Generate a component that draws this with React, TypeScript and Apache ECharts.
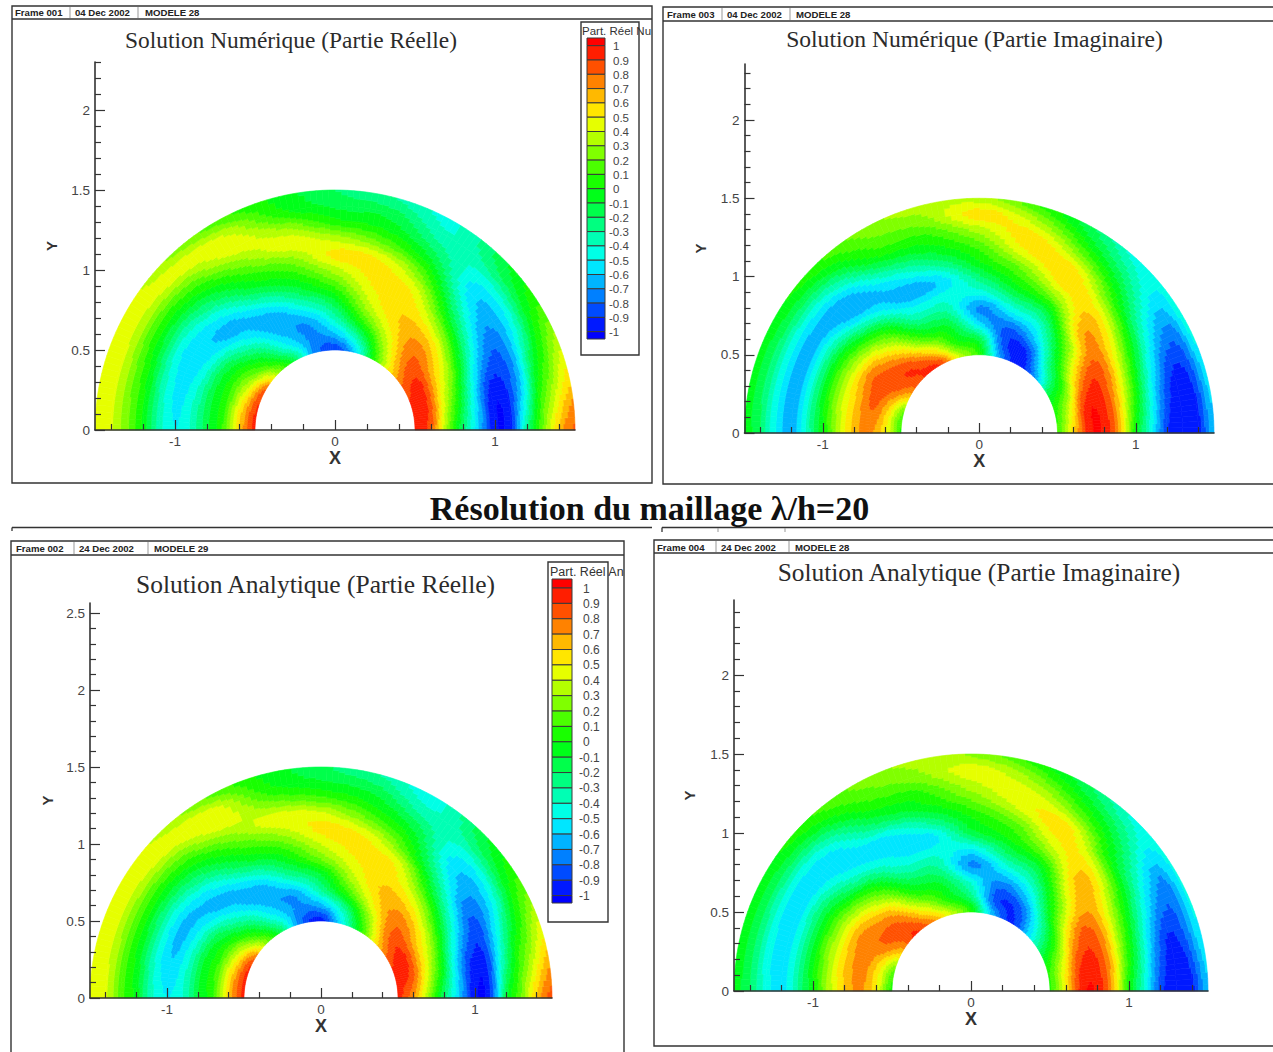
import React, { useEffect, useRef } from "react";
import * as echarts from "echarts";

const anglesDeg = [0, 15, 30, 45, 60, 75, 90, 105, 120, 135, 150, 165, 180];
const radii = [0.5, 0.6, 0.7, 0.8, 0.9, 1.0, 1.1, 1.2, 1.3, 1.4, 1.5];

const numericReal = [
  [0.92, 0.85, 0.3, -0.2, -0.6, -0.98, -0.92, -0.3, 0.2, 0.62, 0.82],
  [0.92, 0.9, 0.45, 0, -0.5, -0.92, -0.9, -0.6, -0.05, 0.25, 0.52],
  [0.85, 0.92, 0.65, 0.35, -0.1, -0.5, -0.75, -0.68, -0.4, -0.05, 0.15],
  [0.6, 0.75, 0.78, 0.62, 0.33, -0.05, -0.35, -0.55, -0.48, -0.25, -0.12],
  [0.1, 0.3, 0.5, 0.6, 0.56, 0.46, 0.2, -0.05, -0.25, -0.38, -0.42],
  [-0.55, -0.25, 0.1, 0.35, 0.48, 0.54, 0.5, 0.2, -0.02, -0.15, -0.3],
  [-0.88, -0.62, -0.35, -0.12, 0.12, 0.35, 0.53, 0.35, 0.05, -0.12, -0.2],
  [-0.72, -0.72, -0.68, -0.42, -0.15, 0.05, 0.25, 0.46, 0.3, 0.05, -0.02],
  [-0.15, -0.45, -0.62, -0.68, -0.45, -0.15, 0.05, 0.25, 0.45, 0.4, 0.15],
  [0.3, 0, -0.25, -0.5, -0.65, -0.5, -0.25, -0.02, 0.22, 0.45, 0.3],
  [0.82, 0.35, 0.05, -0.2, -0.5, -0.58, -0.42, -0.12, 0.15, 0.4, 0.46],
  [0.92, 0.55, 0.1, -0.12, -0.4, -0.54, -0.38, -0.05, 0.2, 0.42, 0.46],
  [0.95, 0.6, 0.12, -0.12, -0.38, -0.5, -0.35, -0.02, 0.22, 0.42, 0.45],
];

const numericImag = [
  [0.1, 0.55, 0.95, 0.98, 0.65, 0, -0.45, -0.88, -0.98, -0.95, -0.62],
  [0.05, 0.42, 0.92, 0.95, 0.68, 0.2, -0.3, -0.72, -0.95, -0.88, -0.55],
  [-0.15, 0.05, 0.55, 0.82, 0.78, 0.45, 0.05, -0.35, -0.62, -0.7, -0.45],
  [-0.7, -0.35, -0.05, 0.25, 0.62, 0.66, 0.45, 0.1, -0.15, -0.35, -0.48],
  [-0.95, -0.9, -0.6, -0.35, -0.05, 0.3, 0.56, 0.55, 0.25, -0.02, -0.2],
  [-0.7, -0.85, -0.8, -0.5, -0.2, 0.05, 0.25, 0.5, 0.55, 0.35, 0.1],
  [0.05, -0.15, -0.55, -0.72, -0.45, -0.22, 0, 0.15, 0.35, 0.55, 0.35],
  [0.42, 0.05, -0.1, -0.3, -0.45, -0.58, -0.32, -0.08, 0.08, 0.25, 0.35],
  [0.92, 0.55, 0.1, -0.2, -0.45, -0.65, -0.55, -0.28, 0, 0.15, 0.25],
  [0.9, 0.88, 0.65, 0.35, 0.05, -0.35, -0.65, -0.65, -0.4, -0.12, 0.08],
  [0.7, 0.85, 0.85, 0.7, 0.35, 0, -0.38, -0.65, -0.5, -0.2, -0.02],
  [0.2, 0.6, 0.82, 0.65, 0.4, 0.05, -0.35, -0.65, -0.5, -0.22, -0.05],
  [0.08, 0.5, 0.72, 0.65, 0.35, 0, -0.35, -0.65, -0.5, -0.2, -0.05],
];

const analyticReal = [
  [0.95, 0.72, 0.3, -0.2, -0.6, -0.98, -0.92, -0.15, 0.2, 0.62, 0.85],
  [0.92, 0.88, 0.5, 0.05, -0.5, -0.88, -0.9, -0.45, -0.02, 0.25, 0.52],
  [0.85, 0.92, 0.65, 0.35, -0.1, -0.5, -0.78, -0.68, -0.4, -0.05, 0.15],
  [0.55, 0.75, 0.78, 0.6, 0.32, -0.05, -0.35, -0.55, -0.48, -0.25, -0.12],
  [0.02, 0.25, 0.52, 0.62, 0.55, 0.46, 0.15, -0.05, -0.22, -0.38, -0.45],
  [-0.5, -0.28, 0.1, 0.35, 0.48, 0.54, 0.48, 0.2, 0, -0.15, -0.3],
  [-0.95, -0.65, -0.3, -0.1, 0.2, 0.4, 0.53, 0.42, 0.12, -0.08, -0.18],
  [-0.78, -0.72, -0.68, -0.38, -0.12, 0.08, 0.3, 0.46, 0.25, 0.05, -0.02],
  [-0.2, -0.45, -0.62, -0.68, -0.45, -0.15, 0.05, 0.25, 0.45, 0.45, 0.2],
  [0.28, 0, -0.28, -0.52, -0.65, -0.5, -0.25, -0.02, 0.22, 0.45, 0.38],
  [0.82, 0.42, 0.05, -0.2, -0.5, -0.63, -0.42, -0.12, 0.15, 0.4, 0.46],
  [0.95, 0.58, 0.12, -0.1, -0.42, -0.6, -0.42, -0.1, 0.15, 0.4, 0.46],
  [0.95, 0.6, 0.1, -0.1, -0.4, -0.5, -0.38, -0.05, 0.15, 0.42, 0.45],
];

const analyticImag = [
  [0.08, 0.52, 0.95, 0.98, 0.65, 0.02, -0.42, -0.85, -0.98, -0.95, -0.62],
  [0.05, 0.42, 0.85, 0.93, 0.7, 0.2, -0.25, -0.68, -0.92, -0.8, -0.5],
  [-0.2, 0.05, 0.52, 0.78, 0.72, 0.42, 0.05, -0.3, -0.58, -0.72, -0.48],
  [-0.58, -0.4, -0.05, 0.25, 0.55, 0.65, 0.45, 0.08, -0.12, -0.3, -0.45],
  [-0.92, -0.85, -0.58, -0.3, -0.05, 0.28, 0.5, 0.55, 0.25, 0, -0.18],
  [-0.62, -0.85, -0.75, -0.5, -0.2, 0.02, 0.18, 0.42, 0.46, 0.3, 0.08],
  [0.05, -0.25, -0.45, -0.72, -0.5, -0.15, 0, 0.18, 0.35, 0.45, 0.28],
  [0.42, 0.05, -0.1, -0.28, -0.42, -0.55, -0.3, -0.05, 0.08, 0.25, 0.32],
  [0.75, 0.45, 0.1, -0.15, -0.38, -0.52, -0.55, -0.25, -0.03, 0.12, 0.22],
  [0.92, 0.82, 0.65, 0.35, 0.05, -0.3, -0.52, -0.56, -0.4, -0.12, 0.08],
  [0.65, 0.8, 0.78, 0.65, 0.33, 0, -0.3, -0.56, -0.48, -0.2, -0.03],
  [0.2, 0.55, 0.75, 0.65, 0.38, 0.05, -0.3, -0.56, -0.47, -0.2, -0.03],
  [0.05, 0.5, 0.72, 0.62, 0.35, 0, -0.3, -0.56, -0.45, -0.2, -0.05],
];

// Colour bands, from below -1 up to above 1
const bandColors = [
  "#0000ff", "#0019ff", "#004bff", "#0080ff", "#00b4ff", "#00e6ff", "#00ffe6", "#00ffb4",
  "#00ff80", "#00ff4b", "#00ff19", "#19ff00", "#4bff00", "#80ff00", "#b4ff00", "#e6ff00",
  "#ffe600", "#ffb900", "#ff8200", "#ff5000", "#ff1e00", "#ff0000",
];
const legendLabels = ["1", "0.9", "0.8", "0.7", "0.6", "0.5", "0.4", "0.3", "0.2", "0.1", "0",
  "-0.1", "-0.2", "-0.3", "-0.4", "-0.5", "-0.6", "-0.7", "-0.8", "-0.9", "-1"];

const xMajor = [-1, 0, 1];
const xMinor = [-1.4, -1.2, -0.8, -0.6, -0.4, -0.2, 0.2, 0.4, 0.6, 0.8, 1.2, 1.4];
const yMajorShort = [0, 0.5, 1, 1.5, 2];
const yMajorTall = [0, 0.5, 1, 1.5, 2, 2.5];
const yMinorAll = [0.1, 0.2, 0.3, 0.4, 0.6, 0.7, 0.8, 0.9, 1.1, 1.2, 1.3, 1.4, 1.6, 1.7, 1.8, 1.9, 2.1, 2.2, 2.3, 2.4];

const titles = [
  "Solution Numérique (Partie Réelle)",
  "Solution Numérique (Partie Imaginaire)",
  "Solution Analytique (Partie Réelle)",
  "Solution Analytique (Partie Imaginaire)",
];
const mainTitle = "Résolution du maillage λ/h=20";

const SERIF = "'Liberation Serif', serif";
const SANS = "'Liberation Sans', sans-serif";
const INK = "#333333";

const panels = [
  { table: numericReal, title: titles[0], tx: 291, ty: 40, tf: 23.4, left: 95, width: 480, y0: 430, scale: 160, yMax: 2.3,
    yMajor: yMajorShort, frame: [12, 6, 640, 477], head: 19, hdrY: 12,
    hdr: [["Frame 001", 15], ["04 Dec 2002", 75], ["MODELE 28", 145]], seps: [70, 138], gapX: 16, gapY: 36,
    legend: { box: [581, 22, 58, 333], sw: [587, 18], top: 38, lv1: 45.7, step: 14.3, bottom: 339, lx: 613, fs: 11.5, tfs: 11.5, title: "Part. Réel Nu", tx: 582, ty: 31 } },
  { table: numericImag, title: titles[1], tx: 974.5, ty: 39, tf: 23.6, left: 744.5, width: 469.5, y0: 433, scale: 156.5, yMax: 2.358,
    yMajor: yMajorShort, frame: [663, 7, 640, 477], head: 21, hdrY: 14.5,
    hdr: [["Frame 003", 667], ["04 Dec 2002", 727], ["MODELE 28", 796]], seps: [722, 790], gapX: 16, gapY: 37, legend: null },
  { table: analyticReal, title: titles[2], tx: 315.5, ty: 584, tf: 25.5, left: 90, width: 462, y0: 998, scale: 154, yMax: 2.565,
    yMajor: yMajorTall, frame: [11, 541, 613, 530], head: 555, hdrY: 548,
    hdr: [["Frame 002", 16], ["24 Dec 2002", 79], ["MODELE 29", 154]], seps: [74, 148], gapX: 18, gapY: 35,
    legend: { box: [548, 562, 60, 360], sw: [552, 20], top: 579, lv1: 588, step: 15.38, bottom: 903, lx: 583, fs: 12, tfs: 12.5, title: "Part. Réel An", tx: 550, ty: 572 } },
  { table: analyticImag, title: titles[3], tx: 979, ty: 572, tf: 25.4, left: 734, width: 474, y0: 991, scale: 158, yMax: 2.475,
    yMajor: yMajorShort, frame: [654, 540, 640, 506], head: 553, hdrY: 547,
    hdr: [["Frame 004", 657], ["24 Dec 2002", 721], ["MODELE 28", 795]], seps: [716, 789], gapX: 17, gapY: 37, legend: null },
];

// Contour rendering of one table cell: smooth reading between table nodes, cut into colour bands
function catmull(p0: number, p1: number, p2: number, p3: number, t: number) {
  return 0.5 * (2 * p1 + (p2 - p0) * t + (2 * p0 - 5 * p1 + 4 * p2 - p3) * t * t + (3 * p1 - p0 - 3 * p2 + p3) * t * t * t);
}
function sample(table: number[][], i: number, u: number, j: number, v: number) {
  const rows: number[] = [];
  for (let a = i - 1; a <= i + 2; a++) {
    const row = table[Math.min(table.length - 1, Math.max(0, a))];
    const n = row.length - 1;
    rows.push(catmull(row[Math.max(0, j - 1)], row[j], row[Math.min(n, j + 1)], row[Math.min(n, j + 2)], v));
  }
  return catmull(rows[0], rows[1], rows[2], rows[3], u);
}
function bandOf(v: number) {
  return Math.max(0, Math.min(bandColors.length - 1, Math.floor((v + 1) / 0.1 + 1e-6) + 1));
}

const ANG_SUB = 10;
const RAD_SUB = 10;

function makeRenderItem(table: number[][]) {
  return (_p: any, api: any) => {
    const i = api.value(0);
    const j = api.value(1);
    const a0 = (anglesDeg[i] * Math.PI) / 180;
    const a1 = (anglesDeg[i + 1] * Math.PI) / 180;
    const r0 = radii[j];
    const r1 = radii[j + 1];
    const pt = (a: number, r: number) => api.coord([r * Math.cos(a), r * Math.sin(a)]);
    const children: any[] = [];
    for (let s = 0; s < ANG_SUB; s++) {
      const u = (s + 0.5) / ANG_SUB;
      const aL = a0 + ((a1 - a0) * s) / ANG_SUB;
      const aR = a0 + ((a1 - a0) * (s + 1)) / ANG_SUB;
      let startK = 0;
      let band = bandOf(sample(table, i, u, j, 0.5 / RAD_SUB));
      for (let k = 1; k <= RAD_SUB; k++) {
        const b = k < RAD_SUB ? bandOf(sample(table, i, u, j, (k + 0.5) / RAD_SUB)) : -1;
        if (b !== band) {
          const ra = r0 + ((r1 - r0) * startK) / RAD_SUB;
          const rb = r0 + ((r1 - r0) * k) / RAD_SUB;
          children.push({
            type: "polygon",
            shape: { points: [pt(aL, ra), pt(aR, ra), pt(aR, rb), pt(aL, rb)] },
            style: { fill: bandColors[band], stroke: bandColors[band], lineWidth: 0.6 },
            silent: true,
          });
          startK = k;
          band = b;
        }
      }
    }
    return { type: "group", children };
  };
}

function buildOption() {
  const grid: any[] = [];
  const xAxis: any[] = [];
  const yAxis: any[] = [];
  const series: any[] = [];
  const title: any[] = [];
  const graphic: any[] = [];

  const rect = (x: number, y: number, w: number, h: number, lw = 1.4, stroke = INK) => ({
    type: "rect", silent: true, z: 1, shape: { x, y, width: w, height: h },
    style: { fill: "transparent", stroke, lineWidth: lw },
  });
  const line = (x1: number, y1: number, x2: number, y2: number, stroke = INK, lw = 1.3) => ({
    type: "line", silent: true, z: 1, shape: { x1, y1, x2, y2 }, style: { stroke, lineWidth: lw },
  });
  const text = (x: number, y: number, t: string, font: string, fill = INK, align = "left") => ({
    type: "text", silent: true, z: 3, x, y,
    style: { text: t, font, fill, textAlign: align, textVerticalAlign: "middle" },
  });

  panels.forEach((p, k) => {
    const top = p.y0 - p.yMax * p.scale;
    const height = p.yMax * p.scale;
    grid.push({ left: p.left, top, width: p.width, height, containLabel: false });
    const yMinor = yMinorAll.filter((v) => v <= p.yMax);
    const axisLine = { show: true, onZero: false, lineStyle: { color: INK, width: 1.6 } };
    const hiddenLine = { show: false, onZero: false };
    const xBase = { type: "value", gridIndex: k, min: -1.5, max: 1.5, position: "bottom", z: 10, splitLine: { show: false } };
    const yBase = { type: "value", gridIndex: k, min: 0, max: p.yMax, position: "left", z: 10, splitLine: { show: false } };
    xAxis.push({
      ...xBase, axisLine,
      name: "X", nameLocation: "middle", nameGap: p.gapX,
      nameTextStyle: { fontFamily: SANS, fontWeight: "bold", fontSize: 18, color: INK },
      axisTick: { show: true, inside: true, length: 10, customValues: xMajor, lineStyle: { color: INK, width: 1.2 } },
      axisLabel: { show: true, margin: 4, customValues: xMajor, fontFamily: SANS, fontSize: 13.5, color: "#444444" },
    });
    xAxis.push({
      ...xBase, axisLine: hiddenLine,
      axisTick: { show: true, inside: true, length: 6, customValues: xMinor, lineStyle: { color: INK, width: 1.2 } },
      axisLabel: { show: false },
    });
    yAxis.push({
      ...yBase, axisLine,
      name: "Y", nameLocation: "middle", nameGap: p.gapY,
      nameTextStyle: { fontFamily: SANS, fontWeight: "bold", fontSize: 15, color: INK },
      axisTick: { show: true, inside: true, length: 10, customValues: p.yMajor, lineStyle: { color: INK, width: 1.2 } },
      axisLabel: { show: true, margin: 5, customValues: p.yMajor, fontFamily: SANS, fontSize: 13.5, color: "#444444" },
    });
    yAxis.push({
      ...yBase, axisLine: hiddenLine,
      axisTick: { show: true, inside: true, length: 6, customValues: yMinor, lineStyle: { color: INK, width: 1.2 } },
      axisLabel: { show: false },
    });

    const cells: number[][] = [];
    for (let i = 0; i < anglesDeg.length - 1; i++) for (let j = 0; j < radii.length - 1; j++) cells.push([i, j]);
    series.push({
      type: "custom", xAxisIndex: k * 2, yAxisIndex: k * 2, data: cells, clip: false, silent: true,
      renderItem: makeRenderItem(p.table), animation: false, tooltip: { show: false },
    });

    title.push({
      text: p.title, left: p.tx, top: p.ty, textAlign: "center", textVerticalAlign: "middle", padding: 0,
      textStyle: { fontFamily: SERIF, fontWeight: "normal", fontSize: p.tf, color: "#2b2b2b" },
    });

    // Frame and header strip
    const [fx, fy, fw, fh] = p.frame;
    graphic.push(rect(fx, fy, fw, fh));
    const headY = k < 2 ? fy + (k === 0 ? 13 : 14) : p.head;
    graphic.push(line(fx, headY, fx + fw, headY));
    p.hdr.forEach(([t, x]) => graphic.push(text(x as number, p.hdrY, t as string, `bold 9.6px ${SANS}`, "#222222")));
    p.seps.forEach((x) => graphic.push(line(x, fy + 1, x, headY - 1, "#999999", 1)));

    // Legend
    if (p.legend) {
      const L = p.legend;
      graphic.push(rect(L.box[0], L.box[1], L.box[2], L.box[3], 1.4));
      graphic.push(text(L.tx, L.ty, L.title, `${L.tfs}px ${SANS}`, "#333333"));
      const n = bandColors.length;
      for (let b = n - 1; b >= 0; b--) {
        const idx = n - 1 - b;
        const yT = idx === 0 ? L.top : L.lv1 + (idx - 1) * L.step;
        const yB = idx === n - 1 ? L.bottom : L.lv1 + idx * L.step;
        graphic.push({
          type: "rect", silent: true, z: 2, shape: { x: L.sw[0], y: yT, width: L.sw[1], height: yB - yT },
          style: { fill: bandColors[b], stroke: "#3a3a3a", lineWidth: 1 },
        });
      }
      legendLabels.forEach((t, idx) => {
        const neg = t.startsWith("-");
        graphic.push(text(L.lx - (neg ? 4 : 0), L.lv1 + idx * L.step + 0.5, t, `${L.fs}px ${SANS}`, "#444444"));
      });
    }
  });

  title.push({
    text: mainTitle, left: 649.5, top: 508, textAlign: "center", textVerticalAlign: "middle", padding: 0,
    textStyle: { fontFamily: SERIF, fontWeight: "bold", fontSize: 34, color: "#111111" },
  });

  // Edges of the two frames showing behind the lower panels
  graphic.push(line(12, 527.5, 652, 527.5));
  graphic.push(line(12, 527.5, 12, 531));
  graphic.push(line(662, 527.5, 1273, 527.5));
  graphic.push(line(662, 527.5, 662, 532));
  graphic.push(line(718, 528, 718, 532, "#999999", 1));
  graphic.push(line(785, 528, 785, 532, "#999999", 1));

  return { animation: false, backgroundColor: "#ffffff", grid, xAxis, yAxis, series, title, graphic };
}

export default function App() {
  const ref = useRef<HTMLDivElement>(null);
  useEffect(() => {
    document.body.style.margin = "0";
    const chart = echarts.init(ref.current!, undefined, { renderer: "svg" });
    chart.setOption(buildOption() as any);
    return () => chart.dispose();
  }, []);
  return <div ref={ref} style={{ width: 1273, height: 1052, position: "fixed", left: 0, top: 0 }} />;
}
